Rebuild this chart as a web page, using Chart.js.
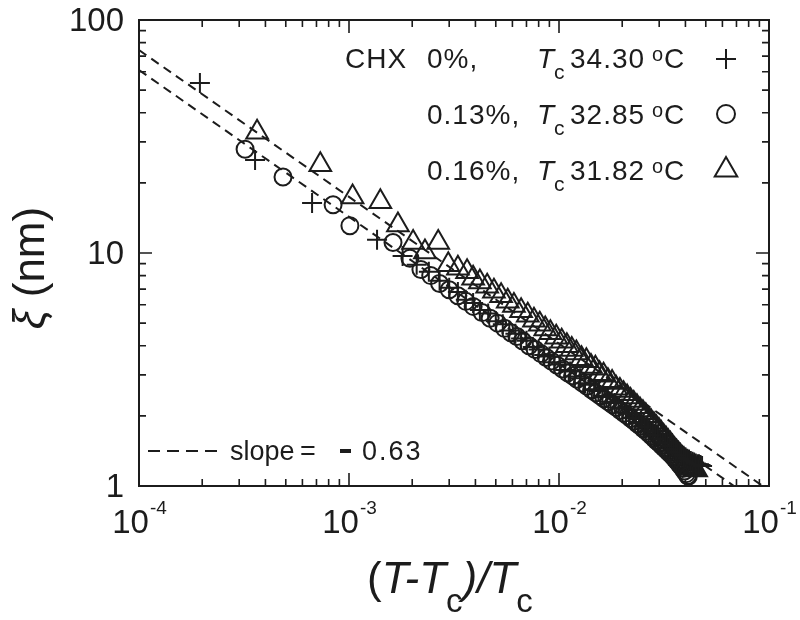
<!DOCTYPE html>
<html>
<head>
<meta charset="utf-8">
<script src="https://cdn.jsdelivr.net/npm/chart.js@4.4.1/dist/chart.umd.min.js"></script>
<style>
  body { margin: 0; background: #fff; }
  #wrap { width: 800px; height: 620px; }
</style>
</head>
<body>
<div id="wrap"><canvas id="xiChart" width="800" height="620"></canvas></div>
<script>
// reduced temperature (T-Tc)/Tc and correlation length xi (nm) for each CHX content
var chx0T = [0.000195, 0.000357, 0.000667, 0.00136,
	0.0018, 0.0021, 0.0024, 0.0027, 0.003, 0.0033, 0.0036, 0.0039, 0.0042, 0.0046,
	0.005, 0.0054, 0.0058, 0.0062, 0.0066, 0.007, 0.0075, 0.008, 0.0085, 0.009,
	0.0095, 0.0101, 0.0107, 0.0113, 0.0119, 0.0126, 0.0133, 0.014, 0.0147, 0.0154,
	0.0161, 0.0168, 0.0176, 0.0184, 0.0192, 0.02, 0.0208, 0.0216, 0.0224, 0.0232,
	0.024, 0.0248, 0.0256, 0.0264, 0.0272, 0.028, 0.0288, 0.0296, 0.0304, 0.0312,
	0.032, 0.0328, 0.0336, 0.0344, 0.0352, 0.036, 0.0368, 0.0376, 0.0384, 0.0392,
	0.04, 0.0408, 0.0416, 0.0424, 0.0432, 0.044, 0.0448, 0.0456, 0.0464, 0.0472,
	0.048];
var chx0Xi = [53.7, 25.1, 16.4, 11.4,
	9.7, 8.9, 8.3, 7.6, 7.1, 6.8, 6.3, 6.1, 5.7, 5.5,
	5.1, 4.95, 4.65, 4.5, 4.3, 4.2, 3.95, 3.85, 3.65, 3.6,
	3.4, 3.32, 3.15, 3.1, 2.95, 2.9, 2.76, 2.72, 2.6, 2.56,
	2.44, 2.41, 2.3, 2.27, 2.17, 2.15, 2.06, 2.04, 1.96, 1.95,
	1.88, 1.86, 1.8, 1.79, 1.73, 1.72, 1.66, 1.65, 1.6, 1.59,
	1.54, 1.53, 1.49, 1.48, 1.44, 1.43, 1.4, 1.39, 1.36, 1.35,
	1.33, 1.31, 1.3, 1.28, 1.27, 1.26, 1.25, 1.24, 1.24, 1.23,
	1.22];

var chx13T = [0.00032, 0.000485, 0.00084, 0.00101, 0.00162,
	0.00195, 0.0022, 0.00245, 0.0027, 0.003, 0.0033, 0.0036, 0.0039, 0.0043, 0.0047,
	0.0051, 0.0055, 0.0059, 0.0063, 0.0067, 0.0072, 0.0077, 0.0082, 0.0087, 0.0092,
	0.0098, 0.0104, 0.011, 0.0116, 0.0122, 0.0129, 0.0136, 0.0143, 0.015, 0.0157,
	0.0164, 0.0172, 0.018, 0.0188, 0.0196, 0.0204, 0.0212, 0.022, 0.0228, 0.0236,
	0.0244, 0.0252, 0.026, 0.0268, 0.0276, 0.0284, 0.0292, 0.03, 0.0308, 0.0316,
	0.0324, 0.0332, 0.034, 0.0348, 0.0356, 0.0364, 0.0372, 0.038, 0.0388, 0.0396,
	0.0404, 0.041, 0.0413];
var chx13Xi = [27.9, 21.2, 16.1, 13.1, 11.1,
	9.5, 8.5, 8.0, 7.4, 6.95, 6.55, 6.2, 5.9, 5.55, 5.25,
	5.0, 4.75, 4.55, 4.38, 4.2, 4.0, 3.85, 3.7, 3.56, 3.44,
	3.3, 3.18, 3.06, 2.97, 2.87, 2.77, 2.68, 2.59, 2.51, 2.44,
	2.37, 2.3, 2.23, 2.17, 2.11, 2.05, 2.0, 1.95, 1.9, 1.85,
	1.81, 1.76, 1.72, 1.68, 1.64, 1.6, 1.56, 1.53, 1.49, 1.46,
	1.43, 1.4, 1.37, 1.34, 1.31, 1.28, 1.25, 1.22, 1.19, 1.16,
	1.13, 1.11, 1.1];

var chx16T = [0.000365, 0.00073, 0.00104, 0.00141, 0.00171, 0.00202, 0.0023, 0.00266,
	0.00297, 0.0033, 0.00365, 0.0039, 0.0042, 0.00455, 0.0049, 0.0053, 0.0057, 0.0061,
	0.0066, 0.0071, 0.0076, 0.0081, 0.0086, 0.0091, 0.0097, 0.0103, 0.0109, 0.0115,
	0.0121, 0.0128, 0.0135, 0.0142, 0.0149, 0.0156, 0.0163, 0.0171, 0.0179, 0.0187,
	0.0195, 0.0203, 0.0211, 0.0219, 0.0227, 0.0235, 0.0243, 0.0251, 0.0259, 0.0267,
	0.0275, 0.0283, 0.0291, 0.0299, 0.0307, 0.0315, 0.0323, 0.0331, 0.0339, 0.0347,
	0.0355, 0.0363, 0.0371, 0.0379, 0.0387, 0.0395, 0.0403, 0.0411, 0.0419, 0.0427,
	0.0435, 0.0443, 0.045];
var chx16Xi = [33.0, 23.9, 17.4, 16.6, 13.2, 11.1, 10.1, 11.1,
	8.9, 8.6, 8.3, 7.8, 7.5, 7.2, 6.85, 6.55, 6.2, 5.95,
	5.65, 5.4, 5.15, 4.95, 4.72, 4.55, 4.35, 4.18, 4.0, 3.85,
	3.72, 3.52, 3.45, 3.26, 3.2, 3.03, 2.99, 2.83, 2.78, 2.63,
	2.57, 2.49, 2.41, 2.33, 2.26, 2.19, 2.12, 2.06, 2.0, 1.94,
	1.88, 1.83, 1.78, 1.73, 1.68, 1.63, 1.59, 1.55, 1.51, 1.47,
	1.43, 1.4, 1.37, 1.34, 1.31, 1.28, 1.26, 1.24, 1.22, 1.2,
	1.19, 1.18, 1.17];

// power-law guides, slope -0.63 on log-log axes
var fitUpper = [[1e-4, 74.3], [0.0933, 1]];
var fitLower = [[1e-4, 61.0], [0.0681, 1]];
var slopeValue = '0.63';

var xDecades = [-4, -3, -2, -1];
var yDecades = [0, 1, 2];

var legendConc = ['0%,', '0.13%,', '0.16%,'];
var legendTc = ['34.30', '32.85', '31.82'];

var FONT = '"Liberation Sans", Arial, Helvetica, sans-serif';
var INK = '#1c1c1c';

function pairs(xs, ys) {
	return xs.map(function (x, i) { return {x: x, y: ys[i]}; });
}
function guide(pts) {
	return pts.map(function (p) { return {x: p[0], y: p[1]}; });
}

function drawMarker(ctx, style, x, y) {
	ctx.beginPath();
	if (style === 'cross') {
		ctx.moveTo(x - 10, y); ctx.lineTo(x + 10, y);
		ctx.moveTo(x, y - 10); ctx.lineTo(x, y + 10);
	} else if (style === 'circle') {
		ctx.arc(x, y, 9, 0, Math.PI * 2);
	} else {
		var r = 13;
		ctx.moveTo(x, y - r);
		ctx.lineTo(x + r * 0.866, y + r / 2);
		ctx.lineTo(x - r * 0.866, y + r / 2);
		ctx.closePath();
	}
	ctx.stroke();
}

var decor = {
	id: 'decor',
	afterDraw: function (chart) {
		var ctx = chart.ctx, a = chart.chartArea;
		var xs = chart.scales.x, ys = chart.scales.y;
		ctx.save();
		ctx.strokeStyle = INK;
		ctx.fillStyle = INK;

		// frame
		ctx.lineWidth = 2;
		ctx.strokeRect(a.left, a.top, a.right - a.left, a.bottom - a.top);

		// inward ticks on all four sides
		ctx.lineWidth = 1.6;
		ctx.beginPath();
		xDecades.forEach(function (k) {
			for (var m = 1; m <= 9; m++) {
				if (k === -1 && m > 1) break;
				var px = xs.getPixelForValue(m * Math.pow(10, k));
				var len = m === 1 ? 13 : 7;
				ctx.moveTo(px, a.bottom); ctx.lineTo(px, a.bottom - len);
				ctx.moveTo(px, a.top); ctx.lineTo(px, a.top + len);
			}
		});
		yDecades.forEach(function (k) {
			for (var m = 1; m <= 9; m++) {
				if (k === 2 && m > 1) break;
				var py = ys.getPixelForValue(m * Math.pow(10, k));
				var len = m === 1 ? 13 : 7;
				ctx.moveTo(a.left, py); ctx.lineTo(a.left + len, py);
				ctx.moveTo(a.right, py); ctx.lineTo(a.right - len, py);
			}
		});
		ctx.stroke();

		// y tick labels
		ctx.font = '33px ' + FONT;
		ctx.textAlign = 'right';
		ctx.textBaseline = 'alphabetic';
		yDecades.forEach(function (k) {
			var v = Math.pow(10, k);
			ctx.fillText(String(v), 124, ys.getPixelForValue(v) + 11);
		});

		// x tick labels 10^k
		ctx.textAlign = 'left';
		xDecades.forEach(function (k) {
			var px = xs.getPixelForValue(Math.pow(10, k));
			ctx.font = '33px ' + FONT;
			var wb = ctx.measureText('10').width;
			ctx.font = '19px ' + FONT;
			var ws = ctx.measureText(String(k)).width;
			var x0 = px - (wb + ws) / 2;
			ctx.font = '33px ' + FONT;
			ctx.fillText('10', x0, 533);
			ctx.font = '19px ' + FONT;
			ctx.fillText(String(k), x0 + wb + 1, 514);
		});

		// x axis title (T-Tc)/Tc
		var x = 367, base = 593;
		function piece(txt, font, dy) {
			ctx.font = font;
			ctx.fillText(txt, x, base + (dy || 0));
			x += ctx.measureText(txt).width;
		}
		piece('(', '44px ' + FONT);
		piece('T-T', 'italic 44px ' + FONT);
		piece('c', '33px ' + FONT, 19);
		piece(')/', 'italic 44px ' + FONT);
		piece('T', 'italic 44px ' + FONT);
		piece('c', '33px ' + FONT, 19);

		// y axis title, rotated
		ctx.save();
		ctx.translate(44, 268);
		ctx.rotate(-Math.PI / 2);
		ctx.font = 'italic 44px ' + FONT;
		var wXi = ctx.measureText('\u03BE').width;
		ctx.font = '44px ' + FONT;
		var wNm = ctx.measureText(' (nm)').width;
		var sx = -(wXi + wNm) / 2;
		ctx.font = 'italic 44px ' + FONT;
		ctx.fillText('\u03BE', sx, 0);
		ctx.font = '44px ' + FONT;
		ctx.fillText(' (nm)', sx + wXi, 0);
		ctx.restore();

		// legend block, top right
		var rows = [68, 124, 180];
		var marks = ['cross', 'circle', 'triangle'];
		var markY = [59, 114, 170];
		ctx.letterSpacing = '1px';
		for (var i = 0; i < 3; i++) {
			var b = rows[i];
			ctx.font = '28px ' + FONT;
			if (i === 0) ctx.fillText('CHX', 345, b);
			ctx.fillText(legendConc[i], 427, b);
			ctx.font = 'italic 28px ' + FONT;
			ctx.fillText('T', 537, b);
			ctx.font = '21px ' + FONT;
			ctx.fillText('c', 554, b + 11);
			ctx.font = '28px ' + FONT;
			ctx.fillText(legendTc[i], 570, b);
			ctx.font = '20px ' + FONT;
			ctx.fillText('o', 652, b - 7);
			ctx.font = '28px ' + FONT;
			ctx.fillText('C', 664, b);
			ctx.lineWidth = 2;
			drawMarker(ctx, marks[i], 726, markY[i]);
		}
		ctx.letterSpacing = '0px';

		// slope key, bottom left
		ctx.lineWidth = 2;
		ctx.setLineDash([12, 7]);
		ctx.beginPath();
		ctx.moveTo(148, 451); ctx.lineTo(221, 451);
		ctx.stroke();
		ctx.setLineDash([]);
		ctx.font = '27px ' + FONT;
		ctx.fillText('slope', 230, 460);
		ctx.fillText('=', 300, 460);
		ctx.fillRect(340, 449, 11, 4);
		ctx.letterSpacing = '2px';
		ctx.fillText(slopeValue, 362, 460);
		ctx.letterSpacing = '0px';

		ctx.restore();
	}
};

var markerBase = {
	backgroundColor: 'rgba(0,0,0,0)',
	borderColor: INK,
	borderWidth: 2,
	pointBorderWidth: 2,
	showLine: false
};

var ctx = document.getElementById('xiChart').getContext('2d');
var xiChart = new Chart(ctx, {
	type: 'scatter',
	data: {
		datasets: [
			Object.assign({label: 'CHX 0%', data: pairs(chx0T, chx0Xi), pointStyle: 'cross', pointRadius: 10}, markerBase),
			Object.assign({label: 'CHX 0.13%', data: pairs(chx13T, chx13Xi), pointStyle: 'circle', pointRadius: 8.5}, markerBase),
			Object.assign({label: 'CHX 0.16%', data: pairs(chx16T, chx16Xi), pointStyle: 'triangle', pointRadius: 12.5}, markerBase),
			{label: 'fit upper', data: guide(fitUpper), showLine: true, pointRadius: 0, borderColor: INK, borderWidth: 2, borderDash: [9, 6], fill: false},
			{label: 'fit lower', data: guide(fitLower), showLine: true, pointRadius: 0, borderColor: INK, borderWidth: 2, borderDash: [9, 6], fill: false}
		]
	},
	options: {
		responsive: false,
		animation: false,
		layout: {padding: {top: 20, right: 31, left: 0, bottom: 0}},
		plugins: {legend: {display: false}, tooltip: {enabled: false}},
		scales: {
			x: {
				type: 'logarithmic', min: 1e-4, max: 1e-1,
				grid: {display: false}, border: {display: false}, ticks: {display: false},
				afterFit: function (s) { s.height = 134; }
			},
			y: {
				type: 'logarithmic', min: 1, max: 100,
				grid: {display: false}, border: {display: false}, ticks: {display: false},
				afterFit: function (s) { s.width = 139; }
			}
		}
	},
	plugins: [decor]
});
</script>
</body>
</html>
